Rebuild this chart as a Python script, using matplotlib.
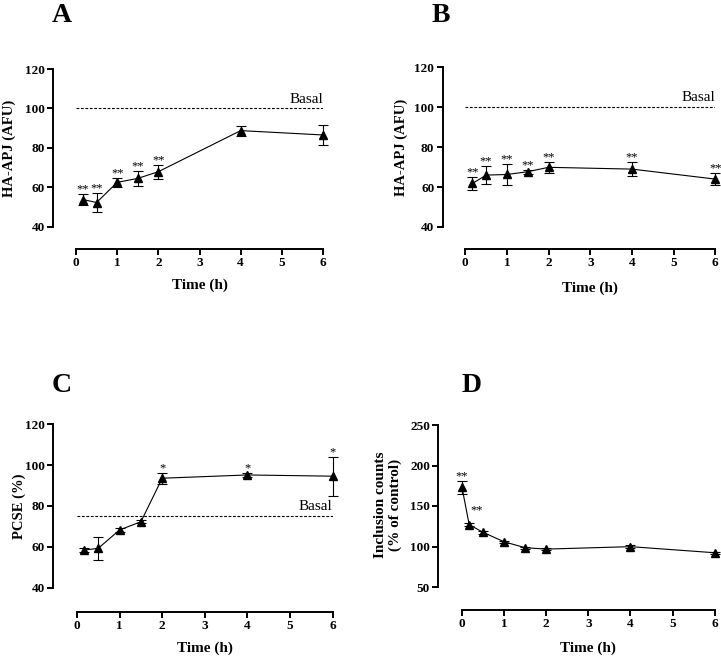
import numpy as np
import matplotlib
matplotlib.use('Agg')
import matplotlib.pyplot as plt

# 字体设置
plt.rcParams['font.family'] = ['Liberation Serif', 'DejaVu Serif']
plt.rcParams['font.weight'] = 'bold'

# 数据
t_a = [0.17, 0.5, 1, 1.5, 2, 4, 6]
y_a = [53.9, 52.4, 62.6, 64.6, 68.0, 88.8, 86.6]
e_a = [3.0, 4.6, 2.3, 4.0, 3.5, 2.5, 5.0]
s_a = ['**', '**', '**', '**', '**', '', '']

t_b = [0.17, 0.5, 1, 1.5, 2, 4, 6]
y_b = [61.8, 66.0, 66.3, 67.7, 69.9, 69.0, 64.0]
e_b = [3.2, 4.5, 5.4, 1.0, 2.6, 3.6, 3.0]
s_b = ['**', '**', '**', '**', '**', '**', '**']

t_c = [0.17, 0.5, 1, 1.5, 2, 4, 6]
y_c = [58.4, 59.3, 68.3, 72.3, 93.6, 95.2, 94.6]
e_c = [0.8, 5.7, 0.8, 0.8, 2.6, 0.8, 9.5]
s_c = ['', '', '', '', '*', '*', '*']

t_d = [0, 0.17, 0.5, 1, 1.5, 2, 4, 6]
y_d = [173.0, 127.0, 117.5, 105.8, 98.5, 96.8, 99.8, 92.3]
e_d = [8.0, 1.5, 1.5, 1.5, 1.5, 1.5, 1.5, 1.5]

xticks = [0, 1, 2, 3, 4, 5, 6]

fig = plt.figure(figsize=(7.21, 6.58), dpi=100)
W, H = 721.0, 658.0


def px_axes(x0, x1, ytop, ybot):
    # 像素坐标 -> 图形坐标
    return fig.add_axes([x0 / W, 1 - ybot / H, (x1 - x0) / W, (ybot - ytop) / H])


def style(ax, ylim, yticks, loff, boff):
    ax.set_xlim(0, 6)
    ax.set_ylim(*ylim)
    ax.spines['top'].set_visible(False)
    ax.spines['right'].set_visible(False)
    ax.spines['left'].set_position(('outward', loff * 0.72))
    ax.spines['bottom'].set_position(('outward', boff * 0.72))
    ax.spines['left'].set_linewidth(1.4)
    ax.spines['bottom'].set_linewidth(1.4)
    ax.spines['bottom'].set_bounds(0, 6)
    ax.set_xticks(xticks, labels=[str(v) for v in xticks], fontweight='bold')
    ax.set_yticks(yticks, labels=[str(v) for v in yticks], fontweight='bold')
    ax.tick_params(direction='out', length=4, width=1.4, labelsize=9.5, pad=2)
    ax.patch.set_visible(False)


def labels(ax, ylab, yx, yy, xx, xy, yfs=10.5):
    ax.set_ylabel(ylab, fontsize=yfs, fontweight='bold', va='center', linespacing=1.05)
    ax.yaxis.set_label_coords(yx / W, 1 - yy / H, transform=fig.transFigure)
    ax.set_xlabel('Time (h)', fontsize=11, fontweight='bold', va='center')
    ax.xaxis.set_label_coords(xx / W, 1 - xy / H, transform=fig.transFigure)


def draw(ax, t, y, e, stars, basal, star_fs=9):
    ax.errorbar(t, y, yerr=e, fmt='-^', color='black', lw=0.8, ms=6,
                ecolor='black', elinewidth=0.8, capsize=3.5, capthick=0.8,
                clip_on=False, zorder=3)
    for xi, yi, ei, st in zip(t, y, e, stars):
        if st:
            ax.annotate(st, (xi, yi + ei), xytext=(0, -1), textcoords='offset points',
                        ha='center', va='bottom', fontsize=star_fs, fontweight='normal')
    if basal is not None:
        ax.plot([0, 6], [basal, basal], ls='--', color='black', lw=0.8, dashes=(2.5, 1.5))
        ax.annotate('Basal', (6, basal), xytext=(0, 2), textcoords='offset points',
                    ha='right', va='bottom', fontsize=11, fontweight='normal')


# A
axA = px_axes(76, 323, 69, 227)
style(axA, (40, 120), [40, 60, 80, 100, 120], 23, 22)
draw(axA, t_a, y_a, e_a, s_a, 100)
labels(axA, 'HA-APJ (AFU)', 9, 148, 199.5, 285)

# B
axB = px_axes(465.3, 715.3, 67.3, 227)
style(axB, (40, 120), [40, 60, 80, 100, 120], 22.6, 22)
draw(axB, t_b, y_b, e_b, s_b, 100)
labels(axB, 'HA-APJ (AFU)', 401, 147, 590, 288)

# C
axC = px_axes(77, 332.7, 424.3, 587.7)
style(axC, (40, 120), [40, 60, 80, 100, 120], 24, 24)
draw(axC, t_c, y_c, e_c, s_c, 75)
labels(axC, 'PCSE (%)', 19, 506, 205, 648)

# D
axD = px_axes(462, 714.7, 425, 587)
style(axD, (50, 250), [50, 100, 150, 200, 250], 23.7, 23)
draw(axD, t_d, y_d, e_d, ['**', '', '', '', '', '', '', ''], None)
axD.text(0.35, 145, '**', ha='center', va='center', fontsize=9, fontweight='normal')
labels(axD, 'Inclusion counts\n(% of control)', 388, 505, 588, 648, yfs=11)

# 面板字母
for lab, (x, y) in zip('ABCD', [(62, 16), (441, 16), (62, 385), (472, 385)]):
    fig.text(x / W, 1 - y / H, lab, ha='center', va='center', fontsize=20, fontweight='bold')

fig.savefig('out.png', dpi=100)
